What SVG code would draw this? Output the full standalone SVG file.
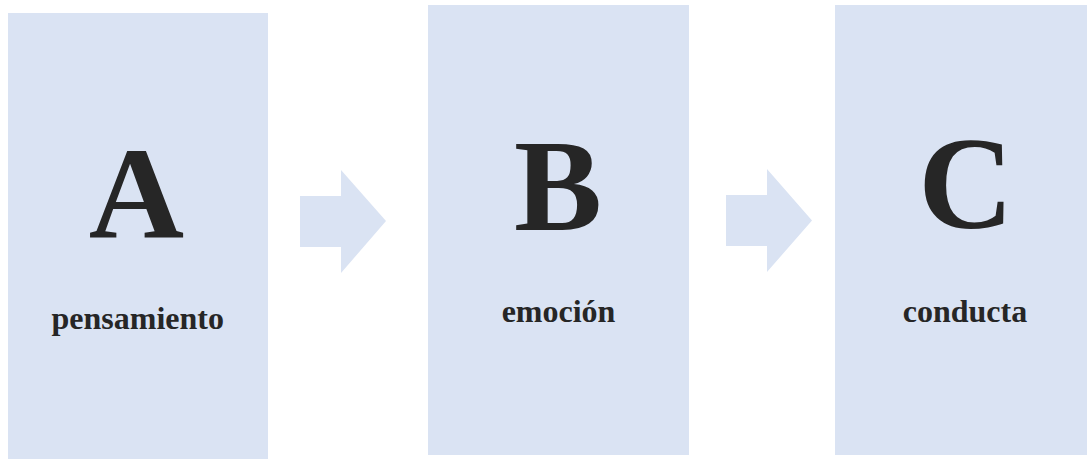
<svg xmlns="http://www.w3.org/2000/svg" width="1087" height="459" viewBox="0 0 1087 459">
<style>
.box{fill:#DAE3F3}
.arrow{fill:#DAE3F3}
.big{font-family:"Liberation Serif","Times New Roman",serif;font-weight:bold;font-size:132px;fill:#262626;text-anchor:middle}
.lbl{font-family:"Liberation Serif","Times New Roman",serif;font-weight:bold;font-size:32px;fill:#262626;text-anchor:middle}
</style>
<rect width="1087" height="459" fill="#FFFFFF"/>
<g id="nodeA">
<rect class="box" x="8" y="13" width="260" height="446"/>
<text class="big" x="136.5" y="238">A</text>
<text class="lbl" x="137.7" y="329">pensamiento</text>
</g>
<g id="nodeB">
<rect class="box" x="428" y="5" width="261" height="450"/>
<text class="big" x="558" y="230">B</text>
<text class="lbl" x="558.5" y="321.5">emoción</text>
</g>
<g id="nodeC">
<rect class="box" x="835" y="5" width="252" height="450"/>
<text class="big" x="966" y="228">C</text>
<text class="lbl" x="965" y="321.5">conducta</text>
</g>
<g id="connectors">
<polygon class="arrow" points="300,196 341,196 341,170 386,221 341,273 341,247 300,247"/>
<polygon class="arrow" points="726,195 767,195 767,169 812,220.5 767,272 767,246 726,246"/>
</g>
</svg>
